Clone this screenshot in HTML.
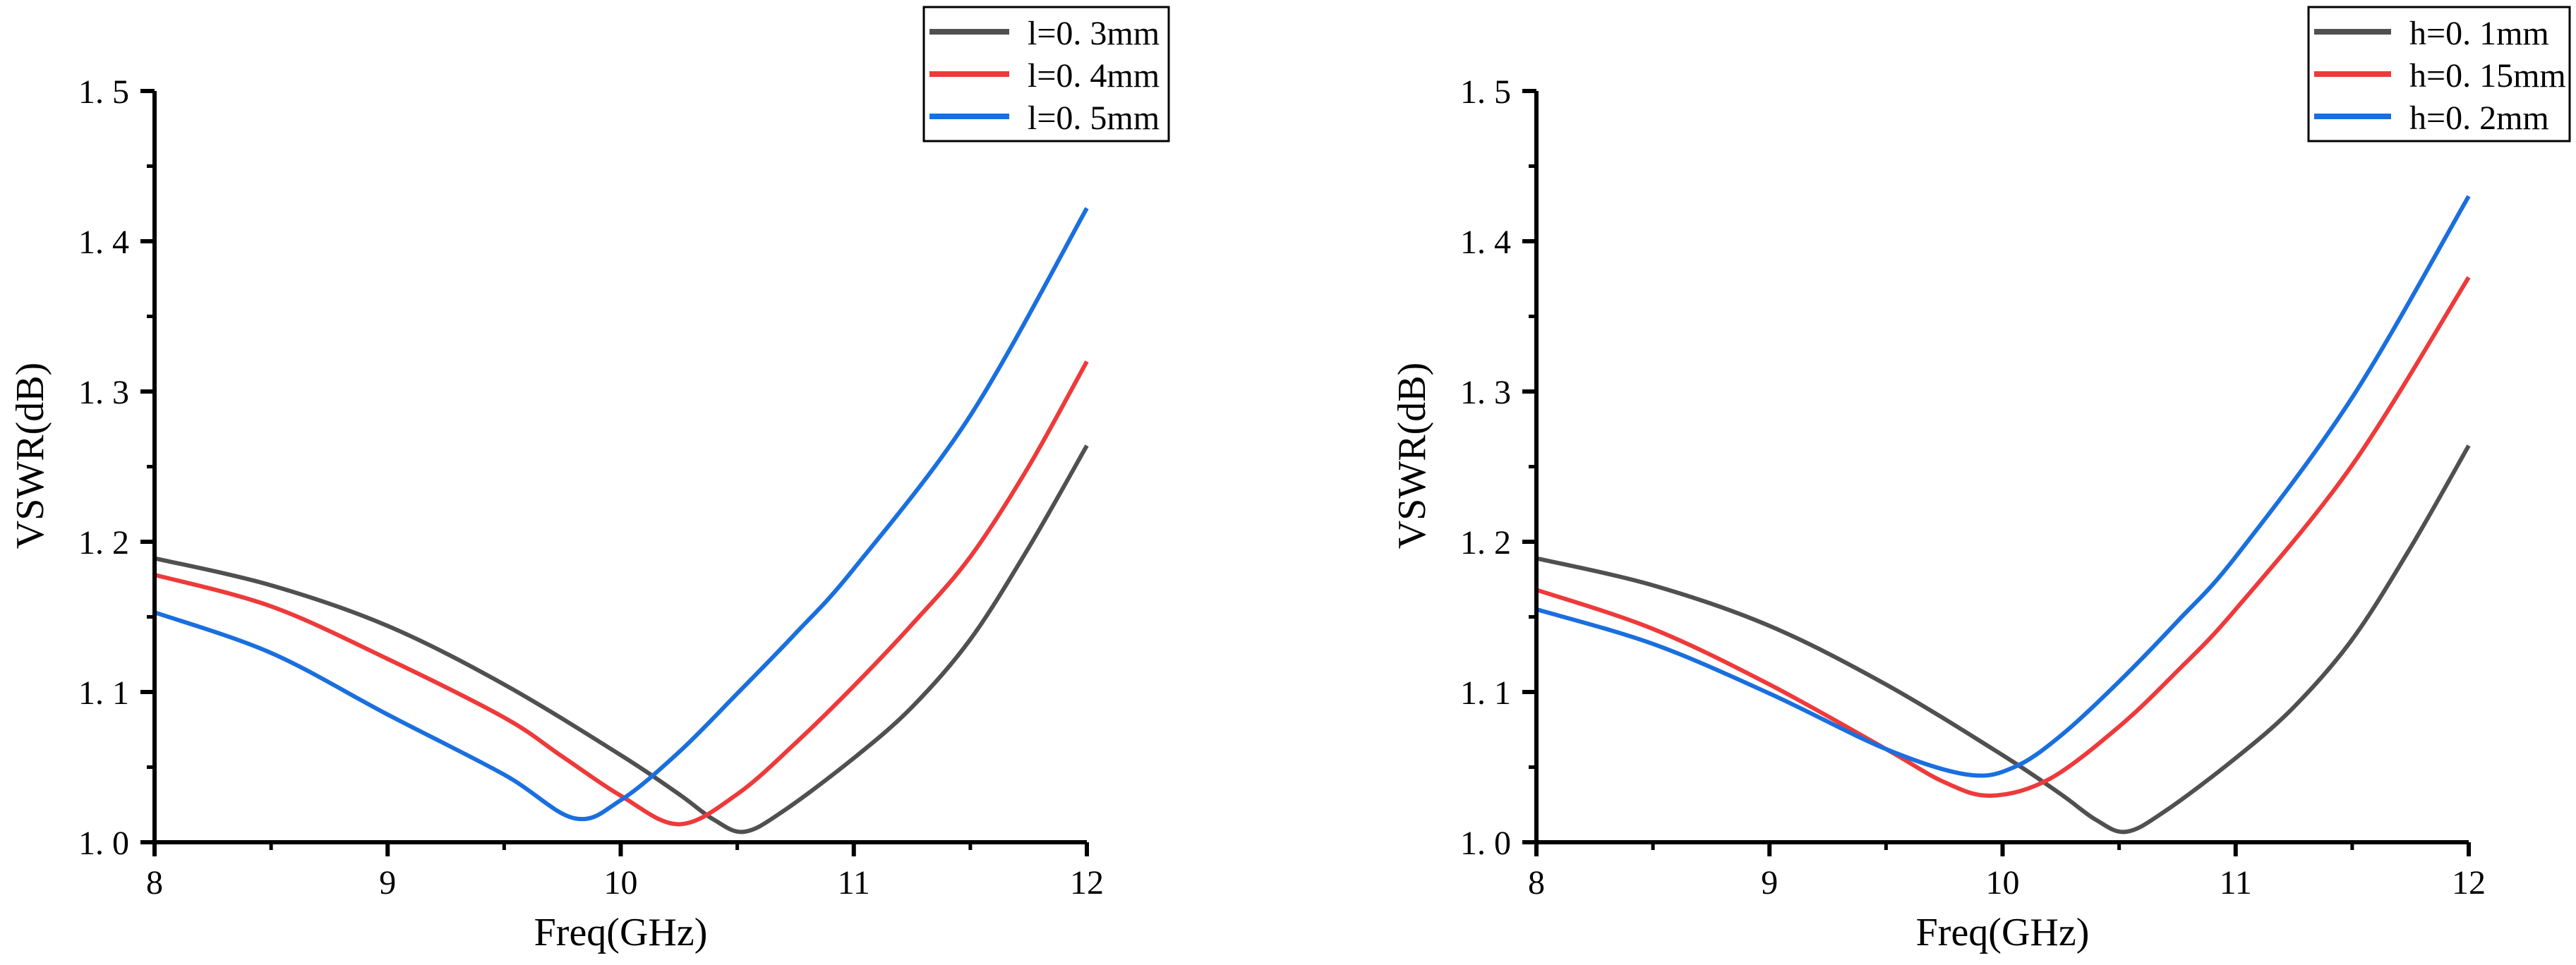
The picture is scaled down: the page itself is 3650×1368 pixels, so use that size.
<!DOCTYPE html>
<html><head><meta charset="utf-8"><style>
html,body{margin:0;padding:0;background:#fff;}
svg{display:block;}
text{font-family:"Liberation Serif","Noto Serif CJK SC",serif;fill:#000;}
</style></head><body>
<svg id="chart" width="3650" height="1368" viewBox="0 0 3650 1368" xmlns="http://www.w3.org/2000/svg"></svg>
<script>
// ---------- data ----------
const xTicks = [8, 9, 10, 11, 12];
const yTicks = [1.0, 1.1, 1.2, 1.3, 1.4, 1.5];
const yTickLabels = ["1.0", "1.1", "1.2", "1.3", "1.4", "1.5"];

const lFreq03 = [8, 8.5, 9, 9.5, 10, 10.25, 10.4, 10.53, 10.7, 11, 11.25, 11.5, 11.75, 12];
const lVal03  = [1.189, 1.171, 1.144, 1.105, 1.058, 1.032, 1.015, 1.007, 1.021, 1.056, 1.090, 1.135, 1.196, 1.264];
const lFreq04 = [8, 8.5, 9, 9.5, 9.75, 10, 10.25, 10.5, 10.75, 11, 11.25, 11.5, 11.75, 12];
const lVal04  = [1.178, 1.157, 1.122, 1.083, 1.057, 1.031, 1.012, 1.032, 1.066, 1.104, 1.145, 1.190, 1.250, 1.320];
const lFreq05 = [8, 8.5, 9, 9.5, 9.8, 10, 10.25, 10.5, 10.75, 11, 11.5, 12];
const lVal05  = [1.153, 1.126, 1.085, 1.045, 1.016, 1.028, 1.060, 1.099, 1.139, 1.182, 1.284, 1.422];

const hFreq01 = lFreq03;
const hVal01  = lVal03;
const hFreq015 = [8, 8.5, 9, 9.5, 9.75, 9.95, 10.2, 10.5, 10.75, 11, 11.5, 12];
const hVal015  = [1.168, 1.142, 1.105, 1.062, 1.040, 1.031, 1.042, 1.077, 1.114, 1.155, 1.251, 1.376];
const hFreq02 = [8, 8.5, 9, 9.5, 9.85, 10.05, 10.25, 10.5, 10.75, 11, 11.5, 12];
const hVal02  = [1.155, 1.132, 1.099, 1.062, 1.045, 1.050, 1.071, 1.107, 1.147, 1.190, 1.296, 1.430];

const leftLabels = ["l=0. 3mm", "l=0. 4mm", "l=0. 5mm"];
const rightLabels = ["h=0. 1mm", "h=0. 15mm", "h=0. 2mm"];
const colors = ["#505050", "#ee3a3a", "#1a6fdf"];

// ---------- drawing ----------
const NS = "http://www.w3.org/2000/svg";
const svg = document.getElementById("chart");
function mk(tag, attrs, parent) {
  const e = document.createElementNS(NS, tag);
  for (const k in attrs) e.setAttribute(k, attrs[k]);
  (parent || svg).appendChild(e);
  return e;
}
function smoothPath(pts) {
  let d = "M" + pts[0][0].toFixed(1) + "," + pts[0][1].toFixed(1);
  for (let i = 0; i < pts.length - 1; i++) {
    const p0 = pts[i - 1] || pts[i], p1 = pts[i], p2 = pts[i + 1], p3 = pts[i + 2] || p2;
    const t = 6;
    const c1 = [p1[0] + (p2[0] - p0[0]) / t, p1[1] + (p2[1] - p0[1]) / t];
    const c2 = [p2[0] - (p3[0] - p1[0]) / t, p2[1] - (p3[1] - p1[1]) / t];
    d += "C" + c1.join(",") + " " + c2.join(",") + " " + p2[0] + "," + p2[1];
  }
  return d;
}
function drawPanel(cfg) {
  const g = mk("g", {});
  
  
  const X = v => cfg.x0 + (v - 8) / 4 * (cfg.x1 - cfg.x0);
  const Y = v => cfg.y0 - (v - 1.0) / 0.5 * (cfg.y0 - cfg.y1);

  cfg.series.forEach((s, i) => {
    const pts = s.f.map((f, j) => [X(f), Y(s.v[j])]);
    const p = mk("path", {d: smoothPath(pts), fill: "none", stroke: colors[i], "stroke-width": 6, "stroke-linejoin": "round"}, g);
    
    
  });

  const ax = mk("path", {d: `M${cfg.x0},${cfg.y1} V${cfg.y0} H${cfg.x1}`, fill: "none", stroke: "#000", "stroke-width": 6}, g);
  
  

  yTicks.forEach((v, i) => {
    const y = Y(v);
    mk("line", {x1: cfg.x0 - 20, x2: cfg.x0, y1: y, y2: y, stroke: "#000", "stroke-width": 6}, g);
    if (i < yTicks.length - 1) {
      const ym = Y(v + 0.05);
      mk("line", {x1: cfg.x0 - 11, x2: cfg.x0, y1: ym, y2: ym, stroke: "#000", "stroke-width": 5}, g);
    }
    const t = mk("text", {x: cfg.x0 - 36, y: y + 17, "text-anchor": "end", "font-size": 48}, g);
    t.textContent = yTickLabels[i].replace(".", ". ");
    
    
  });
  xTicks.forEach((v, i) => {
    const x = X(v);
    mk("line", {x1: x, x2: x, y1: cfg.y0, y2: cfg.y0 + 20, stroke: "#000", "stroke-width": 6}, g);
    if (i < xTicks.length - 1) {
      const xm = X(v + 0.5);
      mk("line", {x1: xm, x2: xm, y1: cfg.y0, y2: cfg.y0 + 11, stroke: "#000", "stroke-width": 5}, g);
    }
    const t = mk("text", {x: x, y: cfg.y0 + 73, "text-anchor": "middle", "font-size": 48}, g);
    t.textContent = String(v);
    
    
  });

  const xt = mk("text", {x: (cfg.x0 + cfg.x1) / 2, y: 1340, "text-anchor": "middle", "font-size": 56}, g);
  xt.textContent = "Freq(GHz)";
  
  
  const yt = mk("text", {x: 0, y: 0, "text-anchor": "middle", "font-size": 56, transform: `translate(${cfg.x0 - 158},646) rotate(-90)`}, g);
  yt.textContent = "VSWR(dB)";
  
  

  const lg = mk("g", {}, g);
  
  
  mk("rect", {x: cfg.lx0, y: 10, width: cfg.lx1 - cfg.lx0, height: 190, fill: "#fff", stroke: "#000", "stroke-width": 3}, lg);
  cfg.labels.forEach((lab, i) => {
    const cy = 45 + i * 60;
    const ln = mk("line", {x1: cfg.lx0 + 8, x2: cfg.lineEnd, y1: cy, y2: cy, stroke: colors[i], "stroke-width": 8}, lg);
    
    
    const t = mk("text", {x: cfg.lineEnd + 26, y: cy + 18, "font-size": 48}, lg);
    t.textContent = lab;
    
    
  });
}

drawPanel({name: "left-chart", x0: 219, x1: 1540, y0: 1194, y1: 129, lx0: 1309, lx1: 1656, lineEnd: 1430,
  labels: leftLabels,
  series: [{f: lFreq03, v: lVal03}, {f: lFreq04, v: lVal04}, {f: lFreq05, v: lVal05}]});
drawPanel({name: "right-chart", x0: 2177, x1: 3498, y0: 1194, y1: 129, lx0: 3271, lx1: 3641, lineEnd: 3388,
  labels: rightLabels,
  series: [{f: hFreq01, v: hVal01}, {f: hFreq015, v: hVal015}, {f: hFreq02, v: hVal02}]});
</script>
</body></html>
